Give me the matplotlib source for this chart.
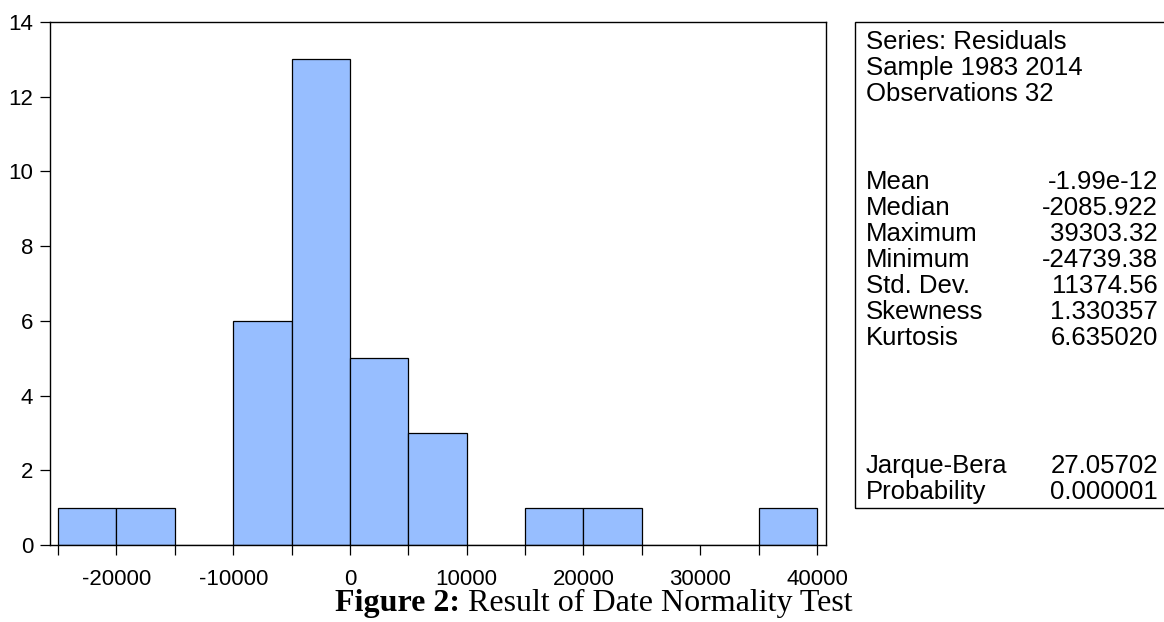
import numpy as np
import matplotlib.pyplot as plt
from matplotlib.patches import Rectangle
from matplotlib.ticker import MultipleLocator

# histogram of residuals (bin width 5000)
bin_left = [-25000, -20000, -15000, -10000, -5000, 0, 5000, 10000, 15000, 20000, 25000, 30000, 35000]
counts = [1, 1, 0, 6, 13, 5, 3, 0, 1, 1, 0, 0, 1]
bin_width = 5000

# summary statistics box
head_lines = ["Series: Residuals", "Sample 1983 2014", "Observations 32"]
stat_names = ["Mean", "Median", "Maximum", "Minimum", "Std. Dev.", "Skewness", "Kurtosis"]
stat_values = ["-1.99e-12", "-2085.922", "39303.32", "-24739.38", "11374.56", "1.330357", "6.635020"]
test_names = ["Jarque-Bera", "Probability"]
test_values = ["27.05702", "0.000001"]

W, H = 1164, 622
plt.rcParams['font.family'] = ['Liberation Sans', 'DejaVu Sans']
plt.rcParams['axes.unicode_minus'] = False
fig = plt.figure(figsize=(W / 100, H / 100), dpi=100)

ax = fig.add_axes([50 / W, 1 - 545 / H, (826 - 50) / W, (545 - 22) / H])
ax.bar(bin_left, counts, width=bin_width, align='edge', color='#97BEFF',
       edgecolor='black', linewidth=0.9)
ax.set_xlim(-25690, 40770)
ax.set_ylim(0, 14)
ax.xaxis.set_major_locator(MultipleLocator(10000))
ax.xaxis.set_minor_locator(MultipleLocator(5000))
ax.yaxis.set_major_locator(MultipleLocator(2))
ax.tick_params(axis='both', which='both', direction='out', length=7, width=0.9,
               labelsize=16, colors='black')
ax.tick_params(axis='x', which='both', pad=10)
ax.tick_params(axis='y', pad=5)
for s in ax.spines.values():
    s.set_linewidth(1.0)

# stats box
fig.patches.append(Rectangle((855 / W, 1 - 508 / H), 400 / W, (508 - 22) / H,
                             transform=fig.transFigure, fill=False,
                             edgecolor='black', linewidth=1.0))
lx = 866 / W
rx = 1158 / W
step = 26
fs = 18.5
y0 = 42
for i, t in enumerate(head_lines):
    fig.text(lx, 1 - (y0 + i * step) / H, t, fontsize=fs, va='center')
y1 = 182
for i, (n, v) in enumerate(zip(stat_names, stat_values)):
    y = 1 - (y1 + i * step) / H
    fig.text(lx, y, n, fontsize=fs, va='center')
    fig.text(rx, y, v, fontsize=fs, va='center', ha='right')
y2 = 466
for i, (n, v) in enumerate(zip(test_names, test_values)):
    y = 1 - (y2 + i * step) / H
    fig.text(lx, y, n, fontsize=fs, va='center')
    fig.text(rx, y, v, fontsize=fs, va='center', ha='right')

# caption: bold "Figure 2:" followed by regular text
renderer = fig.canvas.get_renderer()
cap_y = 1 - 603 / H
cap_fs = 23
t1 = fig.text(0, cap_y, "Figure 2:", fontsize=cap_fs, fontweight='bold',
              family='Liberation Serif', va='center')
t2 = fig.text(0, cap_y, " Result of Date Normality Test", fontsize=cap_fs,
              family='Liberation Serif', va='center')
w1 = t1.get_window_extent(renderer).width
w2 = t2.get_window_extent(renderer).width
start = 594 - (w1 + w2) / 2
t1.set_x(start / W)
t2.set_x((start + w1) / W)

fig.savefig('out.png', dpi=100)
